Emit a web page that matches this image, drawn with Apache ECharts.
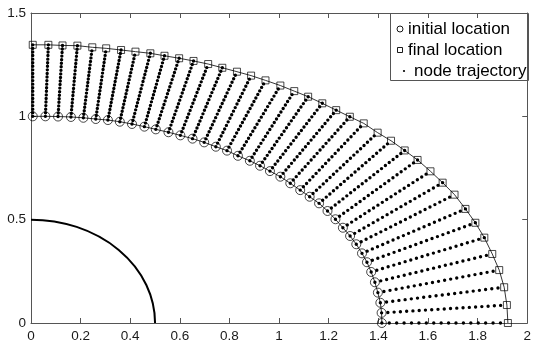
<!DOCTYPE html>
<html>
<head>
<meta charset="utf-8">
<script src="https://cdn.jsdelivr.net/npm/echarts@6/dist/echarts.min.js"></script>
<style>
  html, body { margin: 0; padding: 0; background: #fff; }
  #chart { width: 534px; height: 345px; }
</style>
</head>
<body>
<div id="chart"></div>
<script>
// Node positions on the inner boundary before the move
const initialX = [0.007, 0.058, 0.109, 0.161, 0.211, 0.261, 0.31, 0.358, 0.407, 0.457,
  0.503, 0.554, 0.602, 0.651, 0.698, 0.745, 0.79, 0.834, 0.882, 0.923,
  0.963, 1.005, 1.045, 1.085, 1.123, 1.161, 1.195, 1.227, 1.257, 1.286,
  1.311, 1.334, 1.354, 1.371, 1.386, 1.398, 1.408, 1.413, 1.414];
const initialY = [1.0, 1.0, 0.999, 0.997, 0.993, 0.987, 0.982, 0.974, 0.963, 0.95,
  0.937, 0.923, 0.908, 0.892, 0.874, 0.853, 0.834, 0.809, 0.785, 0.761,
  0.735, 0.708, 0.676, 0.643, 0.611, 0.579, 0.542, 0.502, 0.461, 0.421,
  0.381, 0.337, 0.294, 0.247, 0.197, 0.147, 0.098, 0.049, 0];

// Node positions after the move
const finalX = [0.007, 0.07, 0.127, 0.187, 0.247, 0.303, 0.363, 0.421, 0.481, 0.538,
  0.597, 0.655, 0.714, 0.771, 0.83, 0.887, 0.945, 1.005, 1.061, 1.117,
  1.174, 1.23, 1.285, 1.341, 1.397, 1.451, 1.506, 1.558, 1.61, 1.659,
  1.707, 1.751, 1.791, 1.827, 1.859, 1.887, 1.907, 1.918, 1.922];
const finalY = [1.346, 1.346, 1.343, 1.342, 1.334, 1.329, 1.321, 1.313, 1.305, 1.293,
  1.281, 1.268, 1.253, 1.235, 1.216, 1.197, 1.174, 1.149, 1.122, 1.095,
  1.063, 1.03, 0.998, 0.966, 0.921, 0.882, 0.835, 0.789, 0.734, 0.679,
  0.621, 0.552, 0.485, 0.413, 0.334, 0.256, 0.173, 0.087, 0];

// Number of recorded steps along each node's path
const trajectorySteps = [20, 20, 20, 20, 20, 20, 20, 20, 20, 20,
  20, 20, 20, 20, 20, 20, 20, 20, 20, 20,
  20, 20, 20, 20, 20, 20, 20, 20, 20, 20,
  20, 20, 20, 20, 20, 20, 20, 20, 17];

// Fixed inner quarter circle: centre x, centre y, radius
const innerCircle = [0, 0, 0.5];

const xTicks = { min: 0, max: 2, interval: 0.2 };
const yTicks = { min: 0, max: 1.5, interval: 0.5 };

const legendLabels = ['initial location', 'final location', 'node trajectory'];

const FONT = '"Liberation Sans", Arial, Helvetica, sans-serif';
const INK = '#1a1a1a';
const AXIS = '#555';

const initialPts = initialX.map((x, i) => [x, initialY[i]]);
const finalPts = finalX.map((x, i) => [x, finalY[i]]);
const trajData = initialX.map((x, i) => [x, initialY[i], finalX[i], finalY[i], trajectorySteps[i]]);

function axisCommon(showLabels) {
  return {
    axisLine: { show: true, onZero: false, lineStyle: { color: AXIS, width: 1 } },
    axisTick: { show: true, inside: true, length: 5, lineStyle: { color: AXIS, width: 1 } },
    axisLabel: {
      show: showLabels, color: INK, fontFamily: FONT, fontSize: 13.5,
      formatter: v => String(+v.toFixed(2))
    },
    splitLine: { show: false }
  };
}

const chart = echarts.init(document.getElementById('chart'), null, { renderer: 'canvas' });

chart.setOption({
  animation: false,
  backgroundColor: '#fff',
  grid: { left: 31, right: 3, top: 13, bottom: 22, containLabel: false },
  xAxis: [
    Object.assign({ type: 'value', position: 'bottom' }, xTicks, axisCommon(true),
      { axisLabel: Object.assign(axisCommon(true).axisLabel, { margin: 6 }) }),
    Object.assign({ type: 'value', position: 'top' }, xTicks, axisCommon(false))
  ],
  yAxis: [
    Object.assign({ type: 'value', position: 'left' }, yTicks, axisCommon(true),
      { axisLabel: Object.assign(axisCommon(true).axisLabel, { margin: 5 }) }),
    Object.assign({ type: 'value', position: 'right' }, yTicks, axisCommon(false))
  ],
  series: [
    {
      // inner fixed boundary
      type: 'custom',
      data: [innerCircle],
      encode: { x: 0, y: 1 },
      silent: true,
      renderItem: (params, api) => {
        const c = api.coord([api.value(0), api.value(1)]);
        const s = api.size([api.value(2), api.value(2)]);
        const rx = s[0], ry = s[1];
        return {
          type: 'path',
          shape: { pathData: `M ${c[0]} ${c[1] - ry} A ${rx} ${ry} 0 0 1 ${c[0] + rx} ${c[1]}` },
          style: { fill: 'none', stroke: '#000', lineWidth: 2 }
        };
      }
    },
    {
      // dotted paths of each node
      name: 'node trajectory',
      type: 'custom',
      data: trajData,
      encode: { x: [0, 2], y: [1, 3] },
      silent: true,
      renderItem: (params, api) => {
        const p0 = api.coord([api.value(0), api.value(1)]);
        const p1 = api.coord([api.value(2), api.value(3)]);
        const n = api.value(4);
        const len = Math.hypot(p1[0] - p0[0], p1[1] - p0[1]);
        return {
          type: 'line',
          shape: { x1: p0[0], y1: p0[1], x2: p1[0], y2: p1[1] },
          style: { stroke: '#000', lineWidth: 3.4, lineCap: 'round', lineDash: [0, len / n] }
        };
      }
    },
    {
      type: 'line', data: initialPts, showSymbol: false, silent: true,
      lineStyle: { color: '#000', width: 0.8 }, z: 3
    },
    {
      type: 'line', data: finalPts, showSymbol: false, silent: true,
      lineStyle: { color: '#000', width: 0.8 }, z: 3
    },
    {
      name: 'initial location', type: 'scatter', data: initialPts,
      symbol: 'circle', symbolSize: 9, silent: true, z: 4,
      itemStyle: { color: 'rgba(0,0,0,0)', borderColor: '#000', borderWidth: 0.9 }
    },
    {
      name: 'final location', type: 'scatter', data: finalPts,
      symbol: 'rect', symbolSize: 7, silent: true, z: 4,
      itemStyle: { color: 'rgba(0,0,0,0)', borderColor: '#000', borderWidth: 0.9 }
    }
  ],
  graphic: [
    {
      type: 'group', left: 390, top: 13, z: 100,
      children: [
        { type: 'rect', shape: { x: 0.5, y: 0.5, width: 138, height: 67 },
          style: { fill: '#fff', stroke: '#555', lineWidth: 1 } },
        { type: 'circle', shape: { cx: 10, cy: 16, r: 3 },
          style: { fill: 'none', stroke: '#000', lineWidth: 0.9 } },
        { type: 'rect', shape: { x: 7.5, y: 34.5, width: 5, height: 5 },
          style: { fill: 'none', stroke: '#000', lineWidth: 0.9 } },
        { type: 'circle', shape: { cx: 14, cy: 58, r: 1.1 },
          style: { fill: '#000', stroke: 'none' } },
        { type: 'text', x: 18, y: 16,
          style: { text: legendLabels[0], font: `17px ${FONT}`, fill: '#000', align: 'left', verticalAlign: 'middle' } },
        { type: 'text', x: 18, y: 37,
          style: { text: legendLabels[1], font: `17px ${FONT}`, fill: '#000', align: 'left', verticalAlign: 'middle' } },
        { type: 'text', x: 24, y: 58,
          style: { text: legendLabels[2], font: `17px ${FONT}`, fill: '#000', align: 'left', verticalAlign: 'middle' } }
      ]
    }
  ]
});
</script>
</body>
</html>
